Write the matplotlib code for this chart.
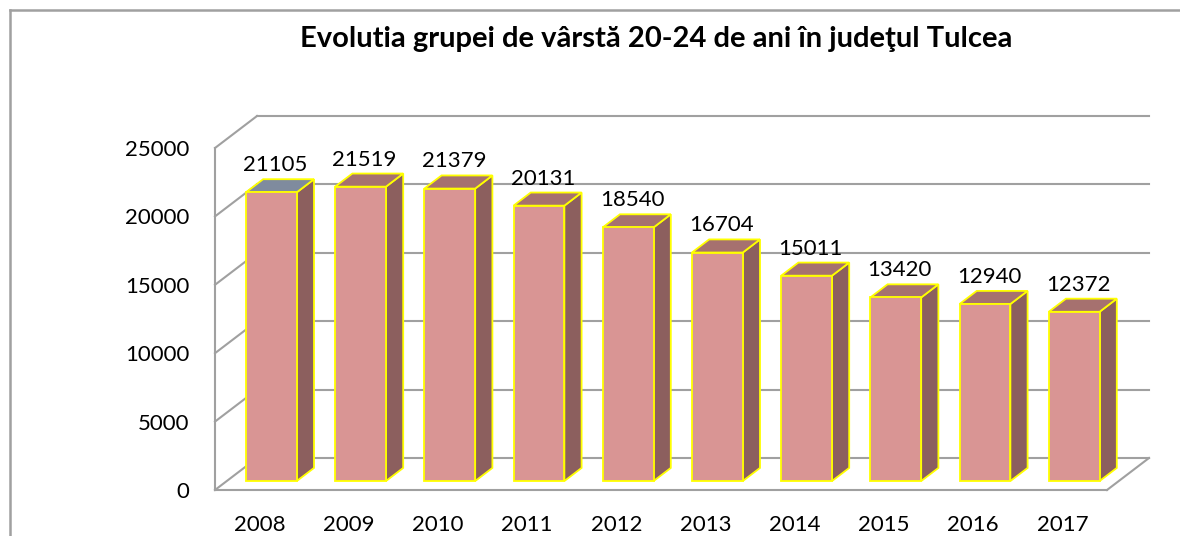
import matplotlib
matplotlib.use('Agg')
import matplotlib.pyplot as plt
from matplotlib.patches import Polygon
from matplotlib.lines import Line2D

years = ['2008', '2009', '2010', '2011', '2012', '2013', '2014', '2015', '2016', '2017']
values = [21105, 21519, 21379, 20131, 18540, 16704, 15011, 13420, 12940, 12372]
yticks = [0, 5000, 10000, 15000, 20000, 25000]
title = 'Evolutia grupei de vârstă 20-24 de ani în judeţul Tulcea'

plt.rcParams['font.family'] = ['Lato', 'DejaVu Sans']

W, H, DPI = 1180, 536, 100
fig = plt.figure(figsize=(W / DPI, H / DPI), dpi=DPI)
fig.patch.set_facecolor('white')

# front plane of the 3D box, in pixels
L, R, B, T = 215, 1107, 490, 148
ax = fig.add_axes([L / W, 1 - B / H, (R - L) / W, (B - T) / H])
n = len(values)
ymax = yticks[-1]
ax.set_xlim(-0.5, n - 0.5)
ax.set_ylim(0, ymax)
ax.patch.set_visible(False)
for s in ax.spines.values():
    s.set_visible(False)

ux = (R - L) / n          # px per category
uy = (B - T) / ymax       # px per value unit
DX, DY = 42 / ux, 32 / uy  # depth of the box in data units

grid_c = '#A0A0A0'
glw = 1.5
# back wall gridlines + left wall diagonals
for t in yticks:
    ax.plot([-0.5 + DX, n - 0.5 + DX], [t + DY, t + DY], color=grid_c, lw=glw, clip_on=False, zorder=1)
    ax.plot([-0.5, -0.5 + DX], [t, t + DY], color=grid_c, lw=glw, clip_on=False, zorder=1)
# left front axis line
ax.plot([-0.5, -0.5], [0, ymax], color=grid_c, lw=glw, clip_on=False, zorder=1)
# floor front edge and right edge
ax.plot([-0.5, n - 0.5], [0, 0], color=grid_c, lw=glw, clip_on=False, zorder=1)
ax.plot([n - 0.5, n - 0.5 + DX], [0, DY], color=grid_c, lw=glw, clip_on=False, zorder=1)

front_c = '#D99594'
side_c = '#8C5F5E'
top_c = '#A6716F'
top_first = '#7F8B9E'
edge_c = '#FFFF00'
elw = 1.3

f1, f2 = 0.28, 0.69
bw = 0.57
for i, v in enumerate(values):
    x0 = i - bw / 2 + f1 * DX
    x1 = x0 + bw
    y0 = f1 * DY
    y1 = v + f1 * DY
    dx = (f2 - f1) * DX
    dy = (f2 - f1) * DY
    side = Polygon([(x1, y0), (x1 + dx, y0 + dy), (x1 + dx, y1 + dy), (x1, y1)],
                   closed=True, facecolor=side_c, edgecolor=edge_c, lw=elw, clip_on=False, zorder=3)
    top = Polygon([(x0, y1), (x1, y1), (x1 + dx, y1 + dy), (x0 + dx, y1 + dy)],
                  closed=True, facecolor=top_first if i == 0 else top_c, edgecolor=edge_c,
                  lw=elw, clip_on=False, zorder=3)
    front = Polygon([(x0, y0), (x1, y0), (x1, y1), (x0, y1)],
                    closed=True, facecolor=front_c, edgecolor=edge_c, lw=elw, clip_on=False, zorder=4)
    ax.add_patch(side)
    ax.add_patch(top)
    ax.add_patch(front)
    ax.text(i + f1 * DX + 4 / ux, v + f2 * DY + 8 / uy, str(v), ha='center', va='baseline',
            fontsize=16, color='black', zorder=5)

ax.set_yticks(yticks)
ax.set_yticklabels([str(t) for t in yticks], fontsize=16)
ax.set_xticks(range(n))
ax.set_xticklabels(years, fontsize=16)
ax.tick_params(axis='y', length=0, pad=18.5)
ax.tick_params(axis='x', length=0, pad=18)

fig.text(656 / W, 1 - 39 / H, title, ha='center', va='center', fontsize=21, fontweight='bold')

# outer frame (top and left edges visible)
fig.add_artist(Line2D([10 / W, 10 / W], [0, 1 - 10 / H], transform=fig.transFigure, color='#A0A0A0', lw=1.8))
fig.add_artist(Line2D([10 / W, 1], [1 - 10 / H, 1 - 10 / H], transform=fig.transFigure, color='#A0A0A0', lw=1.8))

fig.savefig('out.png', dpi=DPI)
